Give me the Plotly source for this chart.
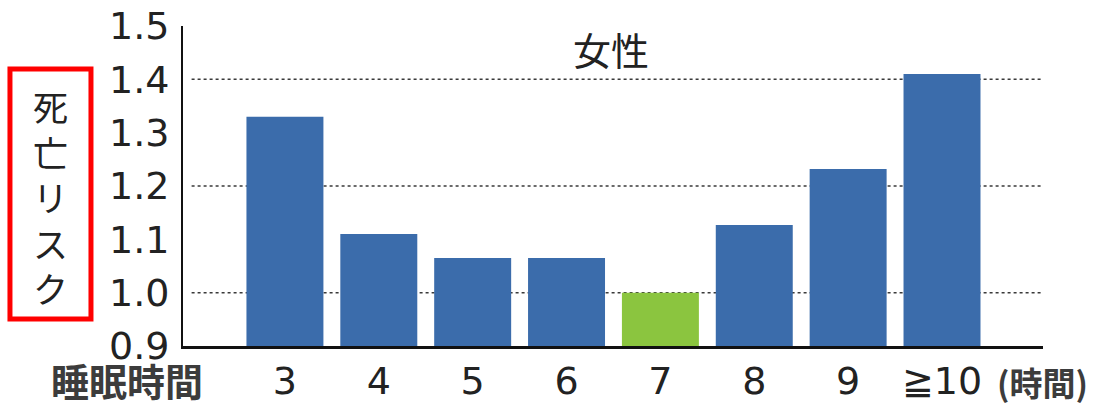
import plotly.graph_objects as go

# Sleep duration categories (hours) and relative mortality risk for women
sleep_hours = ["3", "4", "5", "6", "7", "8", "9", "≧10"]
mortality_risk = [1.33, 1.11, 1.065, 1.065, 1.00, 1.127, 1.232, 1.41]
reference_hours = "7"

y_tick_values = [0.9, 1.0, 1.1, 1.2, 1.3, 1.4, 1.5]
y_tick_labels = ["0.9", "1.0", "1.1", "1.2", "1.3", "1.4", "1.5"]
grid_levels = [1.0, 1.2, 1.4]
axis_floor = 0.9

BLUE = "#3b6cab"
GREEN = "#8bc53f"
TEXT = "#222222"
JP_FONT = "Noto Sans CJK JP"
NUM_FONT = "DejaVu Sans"

bar_colors = [GREEN if h == reference_hours else BLUE for h in sleep_hours]

fig = go.Figure()
# bars start at the axis floor; heights are measured from there
fig.add_trace(go.Bar(
    x=list(range(len(sleep_hours))),
    y=[v - axis_floor for v in mortality_risk],
    base=axis_floor,
    marker=dict(color=bar_colors, line=dict(width=0)),
    width=0.82,
    hoverinfo="skip",
))

shapes = []
for lvl in grid_levels:
    shapes.append(dict(
        type="line", xref="paper", yref="y",
        x0=0.01, x1=1.0, y0=lvl, y1=lvl,
        line=dict(color="#3a3a3a", width=1.5, dash="dot"),
        layer="below",
    ))
# red frame around the vertical axis title
shapes.append(dict(
    type="rect", xref="paper", yref="paper",
    x0=-0.2012, x1=-0.107, y0=0.084, y1=0.866,
    line=dict(color="#ff0000", width=5),
    fillcolor="rgba(0,0,0,0)",
))

annotations = [
    dict(text="女性", xref="paper", yref="paper", x=0.498, y=0.93,
         showarrow=False, xanchor="center", yanchor="middle",
         font=dict(family=JP_FONT, size=38, color=TEXT)),
    dict(text="<b>睡眠時間</b>", xref="paper", yref="paper", x=-0.0651, y=-0.106,
         showarrow=False, xanchor="center", yanchor="middle",
         font=dict(family=JP_FONT, size=38, color="#3c3c3c")),
    dict(text="<b>(時間)</b>", xref="paper", yref="paper", x=0.944, y=-0.113,
         showarrow=False, xanchor="left", yanchor="middle",
         font=dict(family=JP_FONT, size=33, color="#3c3c3c")),
    dict(text="死<br>亡<br>リ<br>ス<br>ク", xref="paper", yref="paper",
         x=-0.1535, y=0.466, showarrow=False, xanchor="center", yanchor="middle",
         font=dict(family=JP_FONT, size=35, color=TEXT)),
]

fig.update_layout(
    width=1101, height=407,
    margin=dict(l=183, r=58, t=26, b=61, autoexpand=False),
    paper_bgcolor="white", plot_bgcolor="white",
    showlegend=False,
    shapes=shapes,
    annotations=annotations,
    xaxis=dict(
        range=[-1.086, 8.076],
        tickmode="array",
        tickvals=list(range(len(sleep_hours))),
        ticktext=sleep_hours,
        tickfont=dict(family=NUM_FONT, size=38, color=TEXT),
        showline=True, linecolor="#111111", linewidth=2.5,
        showgrid=False, zeroline=False, ticks="",
        automargin=False,
    ),
    yaxis=dict(
        range=[0.9, 1.5],
        tickmode="array",
        tickvals=y_tick_values,
        ticktext=y_tick_labels,
        tickfont=dict(family=NUM_FONT, size=38, color=TEXT),
        showline=True, linecolor="#111111", linewidth=2,
        showgrid=False, zeroline=False, ticks="",
        ticklabelstandoff=4,
        automargin=False,
    ),
)

fig.write_html("out.html")
